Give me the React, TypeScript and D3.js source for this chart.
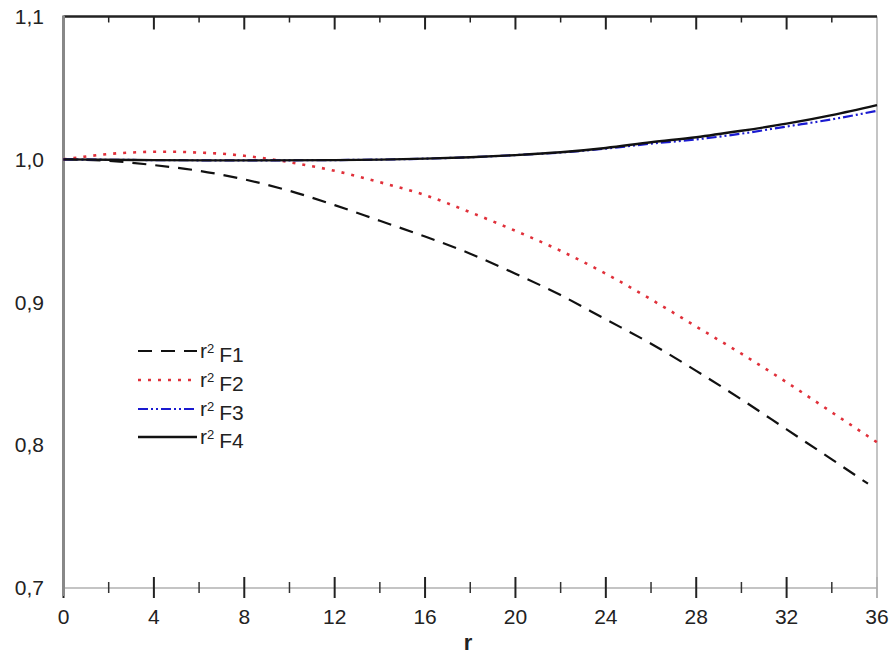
import React, { useEffect, useRef } from 'react';
import * as d3 from 'd3';

// Datos
const rF1 = [0, 2, 4, 6, 8, 10, 12, 14, 16, 18, 20, 22, 24, 26, 28, 30, 32, 34, 35.6];
const valF1 = [1.0, 0.999, 0.996, 0.992, 0.986, 0.978, 0.968, 0.957, 0.946, 0.934, 0.92, 0.905, 0.888, 0.871, 0.852, 0.832, 0.811, 0.79, 0.773];

const rF2 = [0, 1, 2, 3, 4, 5, 6, 7, 8, 9, 10, 12, 14, 16, 18, 20, 22, 24, 26, 28, 30, 32, 34, 36];
const valF2 = [1.0, 1.002, 1.0038, 1.0048, 1.0053, 1.0053, 1.0047, 1.004, 1.0025, 1.0005, 0.998, 0.992, 0.984, 0.975, 0.963, 0.95, 0.936, 0.92, 0.902, 0.883, 0.864, 0.844, 0.823, 0.802];

const rF34 = [0, 4, 8, 12, 16, 18, 20, 22, 24, 26, 28, 30, 32, 34, 36];
const valF3 = [1.0, 0.9995, 0.9993, 0.9995, 1.0005, 1.0015, 1.003, 1.0048, 1.0075, 1.011, 1.014, 1.018, 1.023, 1.028, 1.034];
const valF4 = [1.0, 0.9995, 0.9993, 0.9995, 1.0005, 1.0015, 1.003, 1.005, 1.008, 1.012, 1.0155, 1.02, 1.025, 1.031, 1.038];

const xTicks = [0, 4, 8, 12, 16, 20, 24, 28, 32, 36];
const xMinor = [2, 6, 10, 14, 18, 22, 26, 30, 34];
const yTicks = [0.7, 0.8, 0.9, 1.0, 1.1];

const seriesNames = ['F1', 'F2', 'F3', 'F4'];

const App = () => {
  const chartRef = useRef<HTMLDivElement>(null);

  useEffect(() => {
    const width = 893;
    const height = 655;
    const left = 63.5;
    const right = 877;
    const top = 16.5;
    const bottom = 588;
    const font = 'Liberation Sans, Arial, sans-serif';

    d3.select(chartRef.current).selectAll('*').remove();

    const svg = d3
      .select(chartRef.current)
      .append('svg')
      .attr('width', width)
      .attr('height', height)
      .style('display', 'block')
      .style('font-family', font);

    const x = d3.scaleLinear().domain([0, 36]).range([left, right]);
    const y = d3.scaleLinear().domain([0.7, 1.1]).range([bottom, top]);

    // Marco: derecha y abajo grises, arriba negro
    svg.append('line')
      .attr('x1', right).attr('x2', right)
      .attr('y1', top).attr('y2', bottom + 10)
      .attr('stroke', '#b0b0b0').attr('stroke-width', 1.5);

    svg.append('line')
      .attr('x1', left).attr('x2', right)
      .attr('y1', bottom).attr('y2', bottom)
      .attr('stroke', '#b0b0b0').attr('stroke-width', 1.5);

    svg.append('line')
      .attr('x1', left).attr('x2', right)
      .attr('y1', top).attr('y2', top)
      .attr('stroke', '#222').attr('stroke-width', 2.5);

    // Ticks superiores
    svg.selectAll('.tt-major')
      .data(xTicks.slice(1, -1))
      .enter()
      .append('line')
      .attr('x1', d => x(d)).attr('x2', d => x(d))
      .attr('y1', top).attr('y2', top + 13)
      .attr('stroke', '#222').attr('stroke-width', 2);

    svg.selectAll('.tt-minor')
      .data(xMinor)
      .enter()
      .append('line')
      .attr('x1', d => x(d)).attr('x2', d => x(d))
      .attr('y1', top).attr('y2', top + 6)
      .attr('stroke', '#222').attr('stroke-width', 1.5);

    // Ticks inferiores
    svg.selectAll('.bt-major')
      .data(xTicks)
      .enter()
      .append('line')
      .attr('x1', d => x(d)).attr('x2', d => x(d))
      .attr('y1', bottom - 11).attr('y2', bottom + 10)
      .attr('stroke', d => (d === 36 ? '#aaa' : '#222'))
      .attr('stroke-width', d => (d === 36 ? 1.2 : 2));

    svg.selectAll('.bt-minor')
      .data(xMinor)
      .enter()
      .append('line')
      .attr('x1', d => x(d)).attr('x2', d => x(d))
      .attr('y1', bottom - 6).attr('y2', bottom + 5)
      .attr('stroke', '#333').attr('stroke-width', 1.5);

    // Eje izquierdo
    svg.append('line')
      .attr('x1', left).attr('x2', left)
      .attr('y1', top - 1).attr('y2', bottom + 8)
      .attr('stroke', '#888').attr('stroke-width', 3);

    // Etiquetas Y
    svg.selectAll('.ylab')
      .data(yTicks)
      .enter()
      .append('text')
      .attr('x', 44)
      .attr('y', d => y(d))
      .attr('dy', '0.35em')
      .attr('text-anchor', 'end')
      .style('font-size', '21px')
      .style('fill', '#222')
      .text(d => d3.format('.1f')(d).replace('.', ','));

    // Etiquetas X
    svg.selectAll('.xlab')
      .data(xTicks)
      .enter()
      .append('text')
      .attr('x', d => x(d))
      .attr('y', 617)
      .attr('dy', '0.35em')
      .attr('text-anchor', 'middle')
      .style('font-size', '21px')
      .style('fill', '#222')
      .text(d => String(d));

    svg.append('text')
      .attr('x', 468)
      .attr('y', 642)
      .attr('dy', '0.35em')
      .attr('text-anchor', 'middle')
      .style('font-size', '22px')
      .style('font-weight', 'bold')
      .style('fill', '#222')
      .text('r');

    // Curvas
    const line = d3
      .line<[number, number]>()
      .x(d => x(d[0]))
      .y(d => y(d[1]))
      .curve(d3.curveMonotoneX);

    const styles = [
      { color: '#111', dash: '14,9', width: 2.2 },
      { color: '#e0303a', dash: '3,7', width: 2.6 },
      { color: '#1a1ad0', dash: '10,3,2,3,2,3', width: 2.2 },
      { color: '#111', dash: null, width: 2.4 },
    ];

    const seriesData: [number, number][][] = [
      rF1.map((r, i) => [r, valF1[i]]),
      rF2.map((r, i) => [r, valF2[i]]),
      rF34.map((r, i) => [r, valF3[i]]),
      rF34.map((r, i) => [r, valF4[i]]),
    ];

    seriesData.forEach((d, i) => {
      svg.append('path')
        .datum(d)
        .attr('fill', 'none')
        .attr('stroke', styles[i].color)
        .attr('stroke-width', styles[i].width)
        .attr('stroke-dasharray', styles[i].dash)
        .attr('d', line);
    });

    // Leyenda
    const legend = svg.append('g');
    const legendY = [351, 380, 409, 437];

    seriesNames.forEach((name, i) => {
      legend.append('line')
        .attr('x1', 138).attr('x2', 197)
        .attr('y1', legendY[i]).attr('y2', legendY[i])
        .attr('stroke', styles[i].color)
        .attr('stroke-width', styles[i].width)
        .attr('stroke-dasharray', styles[i].dash);

      const t = legend.append('text')
        .attr('x', 200)
        .attr('y', legendY[i])
        .attr('dy', '0.35em')
        .style('font-size', '21px')
        .style('fill', '#222');
      t.append('tspan').text('r');
      t.append('tspan').attr('dy', '-0.45em').style('font-size', '13px').text('2');
      t.append('tspan').attr('dy', '0.45em').attr('dx', '5').text(name);
    });
  }, []);

  return <div ref={chartRef} style={{ position: 'absolute', left: 0, top: 0 }}></div>;
};

export default App;
